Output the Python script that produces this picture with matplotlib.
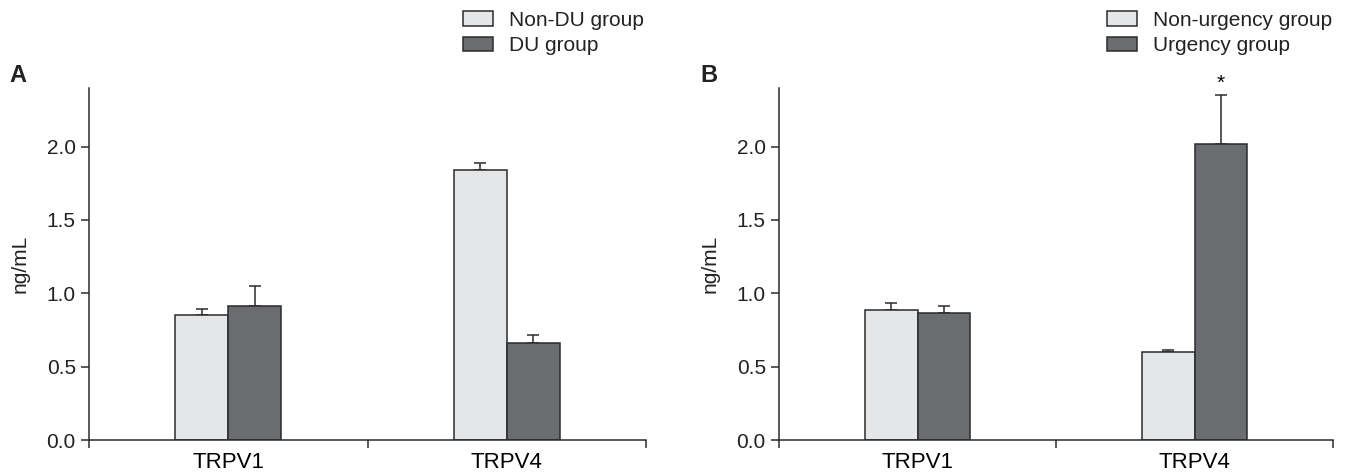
import numpy as np
import matplotlib.pyplot as plt
from matplotlib.patches import Patch

plt.rcParams['font.family'] = ['Liberation Sans', 'DejaVu Sans']

categories = ['TRPV1', 'TRPV4']

# panel A
a_labels = ['Non-DU group', 'DU group']
a_light = [0.855, 1.843]
a_light_err = [0.035, 0.047]
a_dark = [0.915, 0.662]
a_dark_err = [0.138, 0.055]

# panel B
b_labels = ['Non-urgency group', 'Urgency group']
b_light = [0.889, 0.603]
b_light_err = [0.044, 0.013]
b_dark = [0.865, 2.018]
b_dark_err = [0.052, 0.332]
b_star = [False, True]

light_col = '#e5e6e8'
dark_col = '#6b6c70'
edge_col = '#2b2b2b'
W = 1346
H = 475


def panel(ax, light, light_err, dark, dark_err, labels, legend_x, letter, letter_x, stars=None):
    x = np.arange(len(categories))
    bw = 0.19
    ax.bar(x - bw / 2, light, bw, color=light_col, edgecolor=edge_col, linewidth=1.1, zorder=2)
    ax.bar(x + bw / 2, dark, bw, color=dark_col, edgecolor=edge_col, linewidth=1.1, zorder=2)
    ax.errorbar(x - bw / 2, light, yerr=[np.zeros(len(x)), light_err], fmt='none',
                ecolor=edge_col, elinewidth=1.1, capsize=4.5, capthick=1.1, zorder=1)
    ax.errorbar(x + bw / 2, dark, yerr=[np.zeros(len(x)), dark_err], fmt='none',
                ecolor=edge_col, elinewidth=1.1, capsize=4.5, capthick=1.1, zorder=1)
    if stars is not None:
        for i, s in enumerate(stars):
            if s:
                ax.annotate('*', (x[i] + bw / 2, dark[i] + dark_err[i]), xytext=(0, 2),
                            textcoords='offset points', ha='center', va='bottom', fontsize=15)

    ax.set_xlim(-0.5, 1.5)
    ax.set_ylim(0, 2.4)
    ax.set_yticks([0, 0.5, 1.0, 1.5, 2.0])
    ax.set_yticklabels(['0.0', '0.5', '1.0', '1.5', '2.0'])
    ax.set_xticks([-0.5, 0.5, 1.5])
    ax.set_xticklabels([])
    ax.set_xticks(x, minor=True)
    ax.set_xticklabels(categories, minor=True)
    ax.tick_params(axis='x', which='minor', length=0, pad=9, labelsize=16)
    ax.tick_params(axis='both', which='major', direction='out', length=6, width=1.1,
                   labelsize=15, color=edge_col, labelcolor='#222222')
    ax.spines['top'].set_visible(False)
    ax.spines['right'].set_visible(False)
    for s in ['left', 'bottom']:
        ax.spines[s].set_linewidth(1.1)
        ax.spines[s].set_color(edge_col)
    ax.set_ylabel('ng/mL', fontsize=15, labelpad=12, color='#222222')

    handles = [Patch(facecolor=light_col, edgecolor=edge_col, linewidth=1.1),
               Patch(facecolor=dark_col, edgecolor=edge_col, linewidth=1.1)]
    fig.legend(handles, labels, loc='upper left', bbox_to_anchor=(legend_x / W, 1 - 11 / H),
               frameon=False, fontsize=15, borderpad=0, handlelength=1.45, handleheight=0.72,
               handletextpad=0.75, labelspacing=0.3, borderaxespad=0, labelcolor='#222222')
    fig.text(letter_x / W, 1 - 75 / H, letter, fontsize=17, fontweight='bold', va='center',
             color='#222222')


fig = plt.figure(figsize=(W / 100, H / 100), dpi=100)
ax1 = fig.add_axes([89 / W, 35 / H, 557 / W, 352 / H])
ax2 = fig.add_axes([779 / W, 35 / H, 554 / W, 352 / H])

panel(ax1, a_light, a_light_err, a_dark, a_dark_err, a_labels, 463, 'A', 9)
panel(ax2, b_light, b_light_err, b_dark, b_dark_err, b_labels, 1107, 'B', 700, stars=b_star)

fig.savefig('out.png', dpi=100)
